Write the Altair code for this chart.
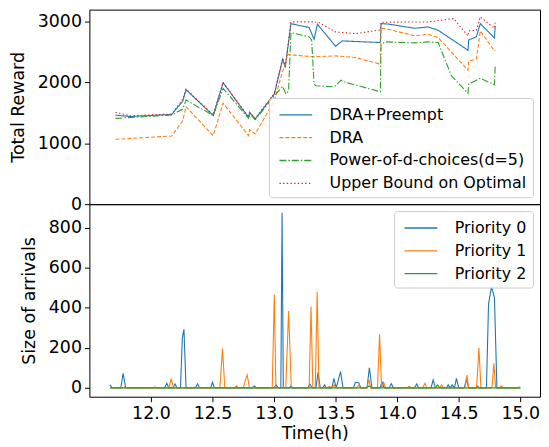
import altair as alt
import pandas as pd

# ---------------- Top panel data (time in hours, total reward) ----------------
DRA_PREEMPT = [(11.712, 1464), (11.831, 1440), (12.169, 1475), (12.258, 1693), (12.285, 1880),
               (12.506, 1458), (12.586, 1995), (12.793, 1426), (12.801, 1508), (12.847, 1399),
               (13.002, 1809), (13.070, 2382), (13.091, 2246), (13.137, 2967), (13.285, 2902),
               (13.325, 2710), (13.352, 2956), (13.500, 2595), (13.554, 2683), (13.863, 2656),
               (13.869, 2967), (13.927, 2960), (14.145, 2890), (14.250, 2913), (14.333, 2858),
               (14.575, 2530), (14.581, 2699), (14.643, 2749), (14.675, 2967), (14.790, 2730),
               (14.796, 2929)]
DRA = [(11.712, 1066), (12.169, 1120), (12.258, 1372), (12.285, 1601), (12.506, 1126),
       (12.586, 1661), (12.793, 1126), (12.801, 1224), (12.847, 1153), (13.002, 1700),
       (13.078, 2246), (13.091, 2300), (13.110, 2464), (13.137, 2454), (13.325, 2421),
       (13.500, 2437), (13.663, 2410), (13.863, 2300), (13.869, 2890), (13.927, 2874),
       (14.145, 2765), (14.250, 2792), (14.333, 2738), (14.575, 2202), (14.581, 2355),
       (14.643, 2382), (14.675, 2847), (14.790, 2519), (14.796, 2530)]
POWER_D = [(11.712, 1410), (12.169, 1464), (12.258, 1563), (12.285, 1710), (12.506, 1458),
           (12.586, 1902), (12.793, 1410), (12.801, 1492), (12.847, 1388), (13.002, 1782),
           (13.070, 1934), (13.097, 1809), (13.118, 1864), (13.137, 2820), (13.285, 2749),
           (13.305, 2700), (13.325, 1972), (13.340, 1945), (13.490, 1929), (13.544, 2038),
           (13.584, 2000), (13.863, 1848), (13.869, 2618), (13.900, 2667), (14.145, 2650),
           (14.250, 2667), (14.333, 2656), (14.441, 2109), (14.575, 1820), (14.581, 1972),
           (14.675, 2071), (14.790, 1962), (14.796, 2257)]
UPPER = [(11.712, 1508), (11.831, 1454), (12.169, 1481), (12.258, 1720), (12.285, 1891),
         (12.506, 1465), (12.586, 2005), (12.793, 1430), (12.801, 1508), (12.847, 1410),
         (13.002, 1820), (13.070, 2400), (13.091, 2260), (13.137, 2995), (13.325, 2995),
         (13.365, 2984), (13.500, 2830), (13.663, 2803), (13.863, 2863), (13.869, 2990),
         (14.250, 2995), (14.458, 3049), (14.575, 2765), (14.581, 2847), (14.643, 2858),
         (14.675, 3077), (14.790, 2890), (14.796, 2984)]

POLICIES = ["DRA+Preempt", "DRA", "Power-of-d-choices(d=5)", "Upper Bound on Optimal"]
POLICY_COLORS = ["#1f77b4", "#ff7f0e", "#2ca02c", "#d62728"]
POLICY_DASHES = [[1, 0], [4, 2], [7, 2, 1.5, 2], [1.4, 2.3]]

# ---------------- Bottom panel data (time in hours, size of arrivals) ----------------
PRIORITY0 = [(11.667, 15), (11.685, 0), (11.755, 0), (11.774, 73), (11.795, 0), (12.02, 0),
             (12.03, 4), (12.05, 0), (12.11, 0), (12.129, 23), (12.145, 0), (12.18, 0),
             (12.196, 20), (12.212, 0), (12.24, 0), (12.255, 250), (12.268, 293), (12.285, 0),
             (12.36, 0), (12.379, 20), (12.395, 0), (12.485, 0), (12.50, 28), (12.515, 0),
             (12.82, 0), (12.84, 10), (12.86, 0), (13.00, 0), (13.016, 15), (13.035, 0),
             (13.055, 0), (13.065, 875), (13.075, 0), (13.125, 0), (13.137, 10), (13.15, 0),
             (13.275, 0), (13.29, 20), (13.31, 0), (13.34, 0), (13.357, 78), (13.375, 0),
             (13.395, 0), (13.41, 15), (13.425, 0), (13.47, 0), (13.486, 48), (13.505, 0),
             (13.540, 81), (13.56, 0), (13.645, 0), (13.661, 28), (13.688, 26), (13.705, 0),
             (13.755, 0), (13.774, 101), (13.795, 0), (13.86, 0), (13.877, 28), (13.895, 0),
             (13.935, 0), (13.952, 21), (13.97, 0), (14.14, 0), (14.159, 20), (14.175, 0),
             (14.275, 0), (14.292, 40), (14.31, 0), (14.40, 0), (14.414, 15), (14.43, 0),
             (14.446, 15), (14.465, 0), (14.481, 48), (14.50, 0), (14.545, 0), (14.562, 43),
             (14.58, 0), (14.64, 0), (14.652, 10), (14.665, 0), (14.725, 0), (14.742, 420),
             (14.766, 506), (14.790, 450), (14.81, 0), (15.0, 0)]
PRIORITY1 = [(11.667, 0), (11.77, 0), (11.785, 5), (11.80, 0), (12.145, 0), (12.164, 43),
             (12.185, 0), (12.56, 0), (12.581, 197), (12.60, 0), (12.68, 0), (12.694, 10),
             (12.71, 0), (12.75, 0), (12.77, 45), (12.782, 64), (12.80, 0), (12.985, 0),
             (13.002, 465), (13.015, 0), (13.095, 0), (13.118, 384), (13.14, 0), (13.285, 0),
             (13.30, 407), (13.315, 0), (13.335, 0), (13.35, 480), (13.365, 0), (13.43, 0),
             (13.45, 8), (13.47, 0), (13.49, 15), (13.50, 0), (13.67, 0), (13.69, 15),
             (13.70, 0), (13.755, 0), (13.77, 43), (13.785, 0), (13.84, 0), (13.857, 268),
             (13.873, 0), (13.89, 28), (13.905, 0), (14.08, 0), (14.10, 8), (14.12, 0),
             (14.205, 0), (14.226, 23), (14.24, 0), (14.345, 0), (14.36, 15), (14.375, 0),
             (14.55, 0), (14.567, 64), (14.58, 0), (14.645, 0), (14.664, 200), (14.68, 0),
             (14.77, 0), (14.785, 122), (14.80, 0), (14.83, 0), (14.845, 10), (14.86, 0),
             (14.98, 0), (14.99, 5), (15.0, 0)]
PRIORITY2 = [(11.667, 0), (13.75, 0), (13.77, 10), (13.79, 0), (14.31, 0), (14.328, 15),
             (14.345, 0), (15.0, 0)]

PRIORITIES = ["Priority 0", "Priority 1", "Priority 2"]
PRIORITY_COLORS = ["#1f77b4", "#ff7f0e", "#2ca02c"]

X_TICKS = [12.0, 12.5, 13.0, 13.5, 14.0, 14.5, 15.0]
TOP_Y_TICKS = [0, 1000, 2000, 3000]
BOTTOM_Y_TICKS = [0, 200, 400, 600, 800]

rows_top = []
for name, pts in zip(POLICIES, [DRA_PREEMPT, DRA, POWER_D, UPPER]):
    for t, v in pts:
        rows_top.append({"Time": t, "Reward": v, "Policy": name})
df_top = pd.DataFrame(rows_top)

rows_bot = []
for name, pts in zip(PRIORITIES, [PRIORITY0, PRIORITY1, PRIORITY2]):
    for t, v in pts:
        rows_bot.append({"Time": t, "Size": v, "Priority": name})
df_bot = pd.DataFrame(rows_bot)

FONT = "DejaVu Sans"
x_scale = alt.Scale(domain=[11.5, 15.16], nice=False, zero=False)

# horizontal line symbol, 33 px long at size 400 (unit box scaled by 10)
LINE_SYMBOL = "M-1.65,0L1.65,0"

legend_common = dict(
    title=None, symbolType=LINE_SYMBOL, symbolSize=400,
    symbolStrokeWidth=1.3, symbolOffset=10, symbolFillColor="transparent",
    labelFontSize=16, labelFont=FONT, labelColor="black",
    labelLimit=400, labelOffset=23, rowPadding=4, padding=6,
    strokeColor="#cccccc", fillColor="rgba(255,255,255,0.8)", cornerRadius=3,
)

top_legend = alt.Legend(orient="bottom-right", offset=7, **legend_common)

top = alt.Chart(df_top).mark_line(strokeWidth=1.1).encode(
    x=alt.X("Time:Q", scale=x_scale,
            axis=alt.Axis(labels=False, ticks=False, title=None, domain=False, grid=False)),
    y=alt.Y("Reward:Q", scale=alt.Scale(domain=[0, 3197], nice=False),
            axis=alt.Axis(values=TOP_Y_TICKS, title="Total Reward", format="d")),
    color=alt.Color("Policy:N", scale=alt.Scale(domain=POLICIES, range=POLICY_COLORS),
                    legend=top_legend),
    strokeDash=alt.StrokeDash("Policy:N", scale=alt.Scale(domain=POLICIES, range=POLICY_DASHES),
                              legend=top_legend),
).properties(width=454, height=196)

bot_legend = alt.Legend(orient="top-right", offset=7, **legend_common)

bottom = alt.Chart(df_bot).mark_line(strokeWidth=1.1).encode(
    x=alt.X("Time:Q", scale=x_scale,
            axis=alt.Axis(values=X_TICKS, format=".1f", title="Time(h)", grid=False,
                          domain=False, titlePadding=3)),
    y=alt.Y("Size:Q", scale=alt.Scale(domain=[-44, 918], nice=False, zero=False),
            axis=alt.Axis(values=BOTTOM_Y_TICKS, title="Size of arrivals", format="d")),
    color=alt.Color("Priority:N", scale=alt.Scale(domain=PRIORITIES, range=PRIORITY_COLORS),
                    legend=bot_legend),
).properties(width=454, height=194)

chart = alt.vconcat(top, bottom, spacing=0, bounds="flush").resolve_scale(
    color="independent", strokeDash="independent"
).resolve_legend(
    color="independent", strokeDash="independent"
).properties(
    padding={"left": 0, "top": -1, "right": 0, "bottom": 0}
).configure_view(
    stroke="black", strokeWidth=1
).configure_axis(
    labelFont=FONT, titleFont=FONT, labelFontSize=17.5, titleFontSize=17.5,
    titleFontWeight="normal", labelColor="black", titleColor="black",
    tickColor="black", tickSize=5, tickWidth=1, labelPadding=3, titlePadding=10,
    grid=False, domain=False
)

chart.save("out.html", embed_options={"renderer": "svg", "actions": False})
